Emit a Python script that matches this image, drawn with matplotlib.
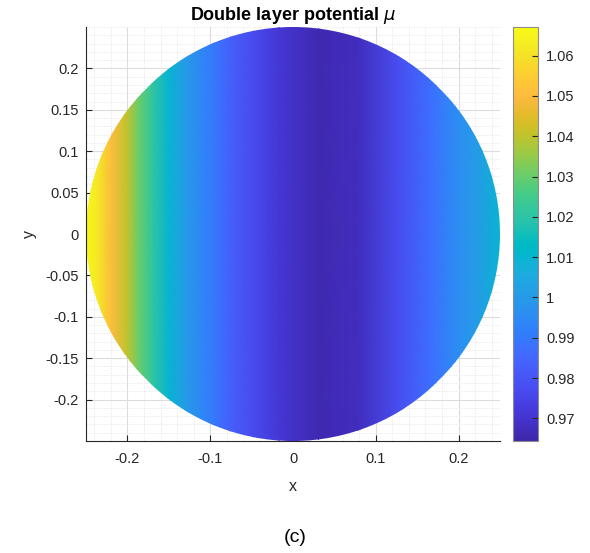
import numpy as np
import matplotlib
matplotlib.use("Agg")
import matplotlib.pyplot as plt
from matplotlib.colors import LinearSegmentedColormap
from matplotlib.patches import Circle
from matplotlib.ticker import MultipleLocator

# MATLAB parula (64 entries)
parula_rgb = [
    [0.2422, 0.1504, 0.6603], [0.2504, 0.1650, 0.7076], [0.2578, 0.1818, 0.7511], [0.2647, 0.1978, 0.7952],
    [0.2706, 0.2147, 0.8364], [0.2751, 0.2342, 0.8710], [0.2783, 0.2559, 0.8991], [0.2803, 0.2782, 0.9221],
    [0.2813, 0.3006, 0.9414], [0.2810, 0.3228, 0.9579], [0.2795, 0.3447, 0.9717], [0.2760, 0.3667, 0.9829],
    [0.2699, 0.3892, 0.9906], [0.2602, 0.4123, 0.9952], [0.2440, 0.4358, 0.9988], [0.2206, 0.4603, 0.9973],
    [0.1963, 0.4847, 0.9892], [0.1834, 0.5074, 0.9798], [0.1786, 0.5289, 0.9682], [0.1764, 0.5499, 0.9520],
    [0.1687, 0.5703, 0.9359], [0.1540, 0.5902, 0.9218], [0.1460, 0.6091, 0.9079], [0.1380, 0.6276, 0.8973],
    [0.1248, 0.6459, 0.8883], [0.1113, 0.6635, 0.8763], [0.0952, 0.6798, 0.8598], [0.0689, 0.6948, 0.8394],
    [0.0297, 0.7082, 0.8163], [0.0036, 0.7203, 0.7917], [0.0067, 0.7312, 0.7660], [0.0433, 0.7411, 0.7394],
    [0.0964, 0.7500, 0.7120], [0.1408, 0.7584, 0.6842], [0.1717, 0.7670, 0.6554], [0.1938, 0.7758, 0.6251],
    [0.2161, 0.7843, 0.5923], [0.2470, 0.7918, 0.5567], [0.2906, 0.7973, 0.5188], [0.3406, 0.8008, 0.4789],
    [0.3909, 0.8029, 0.4354], [0.4456, 0.8024, 0.3909], [0.5044, 0.7993, 0.3480], [0.5616, 0.7942, 0.3045],
    [0.6174, 0.7876, 0.2612], [0.6720, 0.7793, 0.2227], [0.7242, 0.7698, 0.1910], [0.7738, 0.7598, 0.1646],
    [0.8203, 0.7498, 0.1535], [0.8634, 0.7406, 0.1596], [0.9035, 0.7330, 0.1774], [0.9393, 0.7288, 0.2100],
    [0.9728, 0.7298, 0.2394], [0.9956, 0.7434, 0.2371], [0.9970, 0.7659, 0.2199], [0.9952, 0.7893, 0.2028],
    [0.9892, 0.8136, 0.1885], [0.9786, 0.8386, 0.1766], [0.9676, 0.8639, 0.1643], [0.9610, 0.8890, 0.1537],
    [0.9597, 0.9135, 0.1423], [0.9628, 0.9373, 0.1265], [0.9691, 0.9606, 0.1064], [0.9769, 0.9839, 0.0805],
]
parula = LinearSegmentedColormap.from_list("parula", parula_rgb, N=256)

# mu read along the disk (depends on x only)
x_pts = [-0.25, -0.237, -0.219, -0.2, -0.186, -0.168, -0.15, -0.129, -0.096, -0.076,
         -0.048, -0.017, 0.031, 0.08, 0.128, 0.169, 0.196, 0.22, 0.25]
mu_pts = [1.066, 1.062, 1.050, 1.040, 1.030, 1.020, 1.010, 1.000, 0.990, 0.983,
          0.977, 0.971, 0.966, 0.968, 0.978, 0.988, 0.995, 1.000, 1.010]
y_pts = [-0.25, 0.25]
radius = 0.25
clim = (0.9644, 1.0671)
cbar_ticks = [0.97, 0.98, 0.99, 1.00, 1.01, 1.02, 1.03, 1.04, 1.05, 1.06]
cbar_labels = ["0.97", "0.98", "0.99", "1", "1.01", "1.02", "1.03", "1.04", "1.05", "1.06"]

plt.rcParams['font.family'] = ['Liberation Sans', 'DejaVu Sans']
txt = '#262626'

fig = plt.figure(figsize=(5.9, 5.53), dpi=100)
ax = fig.add_axes([86 / 590, 112 / 553, 414 / 590, 414 / 553])
cax = fig.add_axes([513 / 590, 112 / 553, 25 / 590, 414 / 553])

X, Y = np.meshgrid(x_pts, y_pts)
C = np.tile(mu_pts, (len(y_pts), 1))
mesh = ax.pcolormesh(X, Y, C, cmap=parula, vmin=clim[0], vmax=clim[1],
                     shading='gouraud', zorder=2)
disk = Circle((0, 0), radius, transform=ax.transData)
mesh.set_clip_path(disk)

ax.set_xlim(-0.25, 0.25)
ax.set_ylim(-0.25, 0.25)
ax.xaxis.set_minor_locator(MultipleLocator(0.02))
ax.yaxis.set_minor_locator(MultipleLocator(0.01))
ax.set_xticks([-0.2, -0.1, 0, 0.1, 0.2])
ax.set_xticklabels(["-0.2", "-0.1", "0", "0.1", "0.2"])
ax.set_yticks([-0.2, -0.15, -0.1, -0.05, 0, 0.05, 0.1, 0.15, 0.2])
ax.set_yticklabels(["-0.2", "-0.15", "-0.1", "-0.05", "0", "0.05", "0.1", "0.15", "0.2"])
ax.grid(True, which='major', color='#dcdcdc', linewidth=0.8, zorder=0)
ax.grid(True, which='minor', color='#e6e6e6', linewidth=0.6, linestyle=(0, (1.5, 1.5)), zorder=0)
ax.set_axisbelow(True)
for s in ['top', 'right']:
    ax.spines[s].set_visible(False)
for s in ['left', 'bottom']:
    ax.spines[s].set_color(txt)
    ax.spines[s].set_linewidth(0.8)
ax.tick_params(which='major', direction='in', length=4, width=0.8, colors=txt, labelsize=10.5)
ax.tick_params(axis='x', which='major', pad=8)
ax.tick_params(axis='y', which='major', pad=5)
ax.tick_params(which='minor', length=0)
ax.set_xlabel('x', fontsize=11.5, color=txt, labelpad=9)
ax.set_ylabel('y', fontsize=11.5, color=txt, labelpad=6)
ax.set_title(r'Double layer potential $\mu$', fontsize=13, fontweight='bold', color='black', pad=5)

cb = fig.colorbar(mesh, cax=cax, ticks=cbar_ticks)
cb.ax.set_yticklabels(cbar_labels)
cb.ax.tick_params(direction='in', length=4, width=0.8, colors=txt, labelsize=10.5, pad=6)
cb.outline.set_edgecolor('#8c8c8c')
cb.outline.set_linewidth(0.8)

fig.text(0.5, 1 - 537 / 553, '(c)', ha='center', va='center', fontsize=14, color='black')

fig.savefig('out.png', dpi=100)
